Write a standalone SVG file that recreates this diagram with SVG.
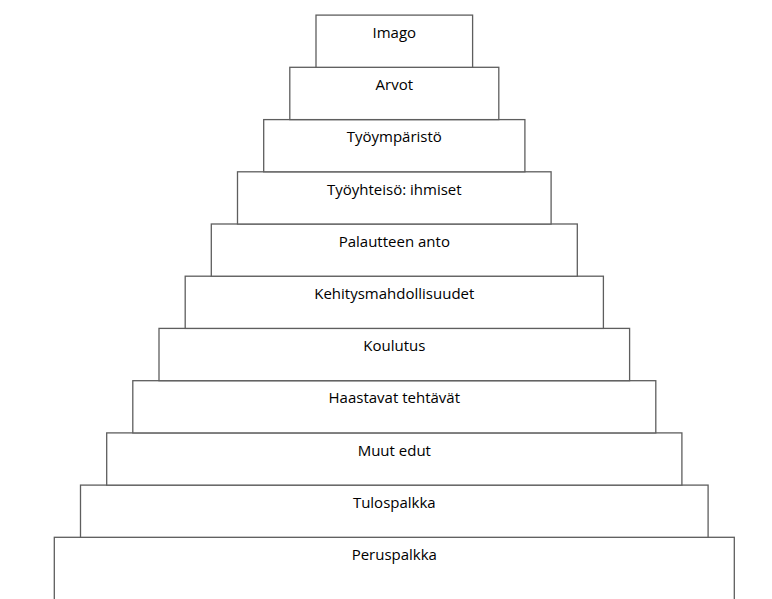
<svg xmlns="http://www.w3.org/2000/svg" width="772" height="599" viewBox="0 0 772 599">
<style>
rect{fill:#fff;stroke:#5e5e5e;stroke-width:1.3}
text{font-family:"Open Sans","Liberation Sans",sans-serif;font-size:15px;fill:#000;text-anchor:middle}
</style>
<rect x="0" y="0" width="772" height="599" style="fill:#fff;stroke:none"/>
<g id="n10"><rect x="54.3" y="537.3" width="680" height="80"/><text x="394.3" y="560">Peruspalkka</text></g>
<g id="n9"><rect x="80.5" y="485.1" width="627.6" height="52.2"/><text x="394.3" y="507.8">Tulospalkka</text></g>
<g id="n8"><rect x="106.7" y="432.9" width="575.2" height="52.2"/><text x="394.3" y="455.6">Muut edut</text></g>
<g id="n7"><rect x="132.8" y="380.7" width="523" height="52.2"/><text x="394.3" y="403.4">Haastavat tehtävät</text></g>
<g id="n6"><rect x="159" y="328.4" width="470.6" height="52.3"/><text x="394.3" y="351.1">Koulutus</text></g>
<g id="n5"><rect x="185.2" y="276.2" width="418.2" height="52.2"/><text x="394.3" y="298.9">Kehitysmahdollisuudet</text></g>
<g id="n4"><rect x="211.3" y="224" width="366" height="52.2"/><text x="394.3" y="246.7">Palautteen anto</text></g>
<g id="n3"><rect x="237.5" y="171.8" width="313.6" height="52.2"/><text x="394.3" y="194.5">Työyhteisö: ihmiset</text></g>
<g id="n2"><rect x="263.7" y="119.6" width="261.2" height="52.2"/><text x="394.3" y="142.3">Työympäristö</text></g>
<g id="n1"><rect x="289.8" y="67.3" width="209" height="52.3"/><text x="394.3" y="90">Arvot</text></g>
<g id="n0"><rect x="316" y="15.1" width="156.6" height="52.2"/><text x="394.3" y="37.8">Imago</text></g>
<g id="connectors"></g>
</svg>
